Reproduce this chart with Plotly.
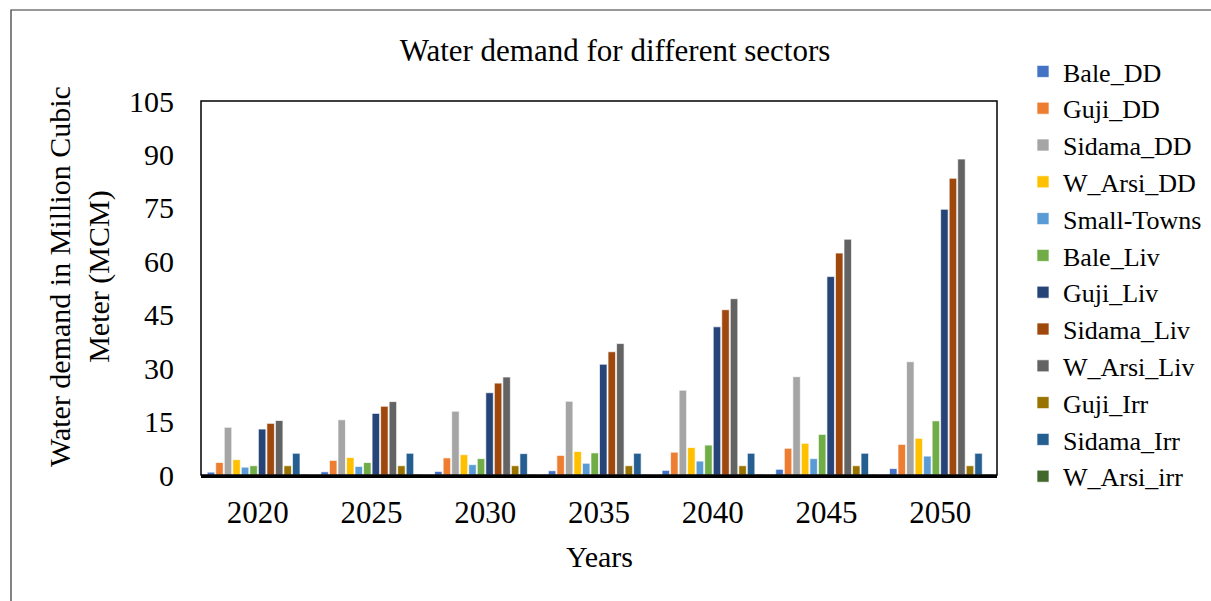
import plotly.graph_objects as go

# Planning horizon
years = ["2020", "2025", "2030", "2035", "2040", "2045", "2050"]

# Water demand per sector, Million Cubic Meter (MCM)
bale_dd = [0.8, 0.9, 1.0, 1.2, 1.3, 1.6, 1.8]
guji_dd = [3.5, 4.1, 4.8, 5.5, 6.4, 7.5, 8.6]
sidama_dd = [13.4, 15.5, 17.9, 20.7, 23.8, 27.6, 31.8]
w_arsi_dd = [4.3, 4.9, 5.7, 6.6, 7.7, 8.9, 10.3]
small_towns = [2.2, 2.4, 2.9, 3.3, 3.9, 4.6, 5.3]
bale_liv = [2.6, 3.5, 4.6, 6.2, 8.4, 11.4, 15.2]
guji_liv = [12.9, 17.3, 23.1, 31.1, 41.6, 55.7, 74.6]
sidama_liv = [14.5, 19.3, 25.8, 34.6, 46.4, 62.3, 83.3]
w_arsi_liv = [15.3, 20.6, 27.5, 36.9, 49.5, 66.2, 88.7]
guji_irr = [2.6, 2.6, 2.6, 2.6, 2.6, 2.6, 2.6]
sidama_irr = [6.1, 6.1, 6.0, 6.1, 6.1, 6.1, 6.1]
w_arsi_irr = [0.2, 0.2, 0.2, 0.2, 0.2, 0.2, 0.2]

series = [
    ("Bale_DD", bale_dd, "#4472C4"),
    ("Guji_DD", guji_dd, "#ED7D31"),
    ("Sidama_DD", sidama_dd, "#A5A5A5"),
    ("W_Arsi_DD", w_arsi_dd, "#FFC000"),
    ("Small-Towns", small_towns, "#5B9BD5"),
    ("Bale_Liv", bale_liv, "#70AD47"),
    ("Guji_Liv", guji_liv, "#264478"),
    ("Sidama_Liv", sidama_liv, "#9E480E"),
    ("W_Arsi_Liv", w_arsi_liv, "#636363"),
    ("Guji_Irr", guji_irr, "#997300"),
    ("Sidama_Irr", sidama_irr, "#255E91"),
    ("W_Arsi_irr", w_arsi_irr, "#43682B"),
]

y_ticks = [0, 15, 30, 45, 60, 75, 90, 105]

FONT = "Liberation Serif, Times New Roman, serif"

fig = go.Figure()
for name, vals, color in series:
    fig.add_trace(go.Bar(
        name=name, x=years, y=vals,
        marker=dict(color=color, line=dict(color="rgba(255,255,255,0.85)", width=0.8)),
    ))

# plot area in pixels: left 201, right 997, top 101, bottom 475
L, R, T, B = 201, 997, 101, 475
W, H = 1211, 601
pw, ph = R - L, B - T


def px_x(x):
    return (x - L) / pw


def px_y(y):
    return (B - y) / ph


fig.update_layout(
    width=W, height=H,
    margin=dict(l=L, r=W - R, t=T, b=H - B, pad=0, autoexpand=False),
    paper_bgcolor="white", plot_bgcolor="white",
    barmode="group", bargap=0.1, bargroupgap=0.12,
    font=dict(family=FONT, color="black", size=30),
    title=dict(
        text="Water demand for different sectors",
        font=dict(family=FONT, size=31, color="black"),
        x=615 / W, xanchor="center", xref="container",
        y=1 - 50 / H, yanchor="middle", yref="container",
    ),
    legend=dict(
        xref="container", yref="container",
        x=1023 / W, xanchor="left",
        y=1 - 48 / H, yanchor="top",
        font=dict(family=FONT, size=26, color="black"),
        bgcolor="rgba(0,0,0,0)", borderwidth=0,
        itemclick=False, itemdoubleclick=False,
        traceorder="normal", maxheight=600,
    ),
    showlegend=True,
)

fig.update_xaxes(
    type="category", showgrid=False, ticks="",
    showline=True, linecolor="black", linewidth=2.5,
    tickfont=dict(family=FONT, size=31, color="black"),
    ticklabelstandoff=8,
)
fig.update_yaxes(
    range=[0, 105], tickvals=y_ticks, showgrid=False, ticks="",
    showline=False, zeroline=False,
    tickfont=dict(family=FONT, size=30, color="black"),
    ticklabelstandoff=26,
)

# plot-area frame
fig.add_shape(type="rect", xref="paper", yref="paper", x0=0, x1=1, y0=0, y1=1,
              line=dict(color="black", width=1.5), layer="above")
# chart-area frame
fig.add_shape(type="rect", xref="paper", yref="paper",
              x0=px_x(11), x1=px_x(W + 10), y0=px_y(H + 10), y1=px_y(10),
              line=dict(color="#333333", width=1.2), layer="above")

# axis titles
fig.add_annotation(
    text="Water demand in Million Cubic<br>Meter (MCM)",
    xref="paper", yref="paper", x=px_x(79), y=px_y(277),
    xanchor="center", yanchor="middle", textangle=-90, showarrow=False,
    font=dict(family=FONT, size=30, color="black"),
)
fig.add_annotation(
    text="Years", xref="paper", yref="paper", x=px_x(599), y=px_y(556),
    xanchor="center", yanchor="middle", showarrow=False,
    font=dict(family=FONT, size=30, color="black"),
)

fig.write_html("out.html")
